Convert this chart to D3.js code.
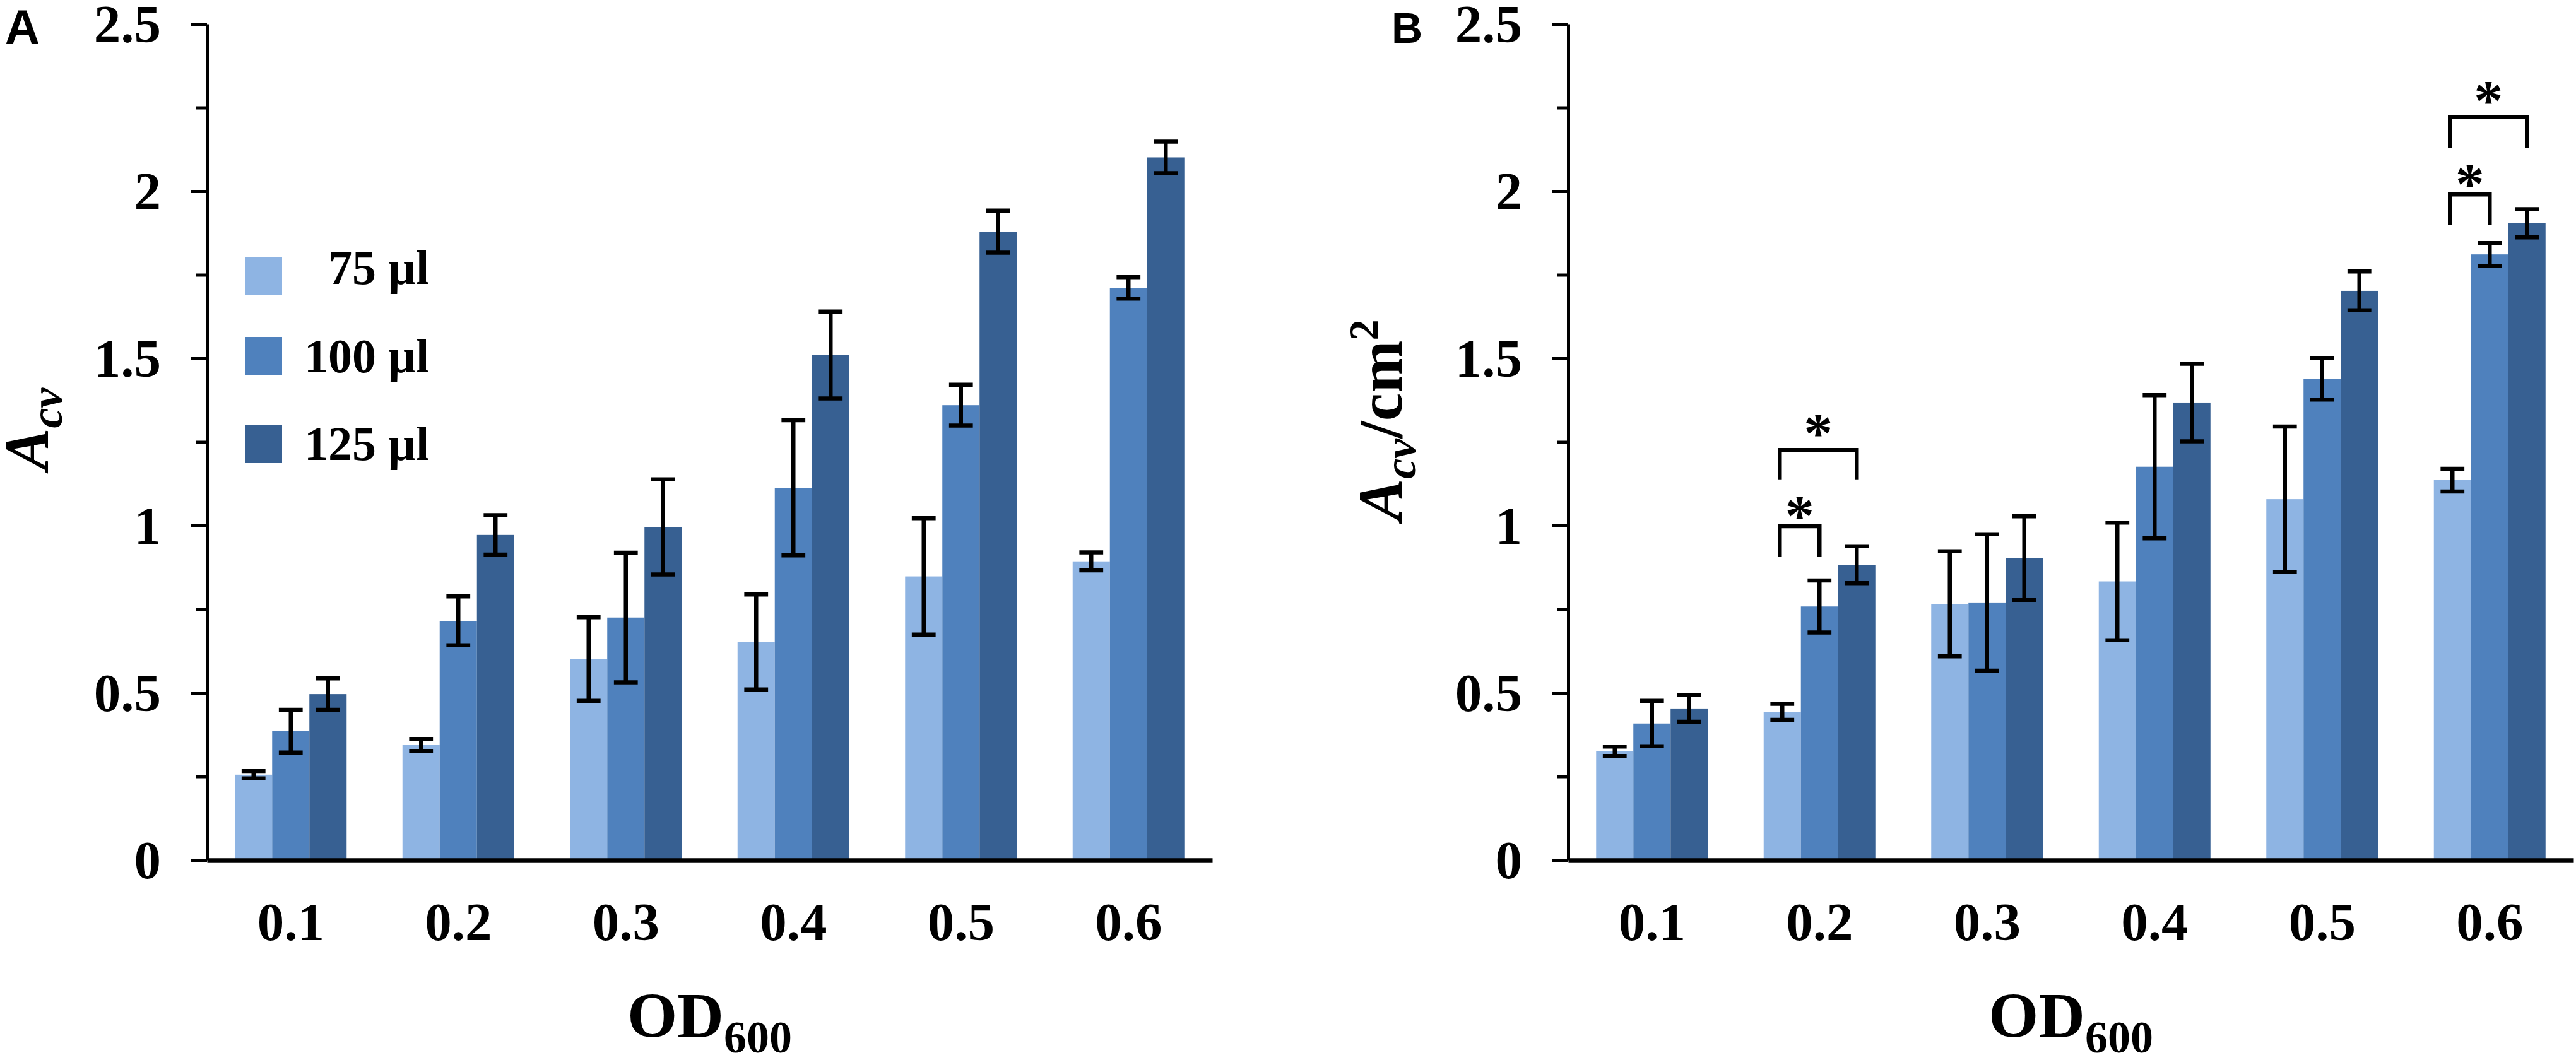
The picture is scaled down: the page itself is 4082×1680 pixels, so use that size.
<!DOCTYPE html>
<html>
<head>
<meta charset="utf-8">
<script src="https://cdn.jsdelivr.net/npm/d3@7"></script>
<style>
  body { margin: 0; background: #fff; }
  text { font-family: "Liberation Serif", "Times New Roman", serif; font-weight: bold; fill: #000; }
  .panel-letter { font-family: "Liberation Sans", Arial, sans-serif; font-weight: bold; }
</style>
</head>
<body>
<div id="chart"></div>
<script>
// OD600 categories and the three inoculum volumes
const categories = ["0.1", "0.2", "0.3", "0.4", "0.5", "0.6"];
const seriesNames = ["75 µl", "100 µl", "125 µl"];
const seriesColors = ["#8eb4e3", "#4f81bd", "#376092"];
const yTicks = [0, 0.5, 1, 1.5, 2, 2.5];
const yMinorTicks = [0.25, 0.75, 1.25, 1.75, 2.25];

// Panel A: Acv
const a75 = [0.255, 0.344, 0.601, 0.652, 0.848, 0.893];
const a100 = [0.385, 0.715, 0.725, 1.113, 1.360, 1.711];
const a125 = [0.496, 0.972, 0.996, 1.510, 1.879, 2.101];
const a75Err = [0.011, 0.018, 0.125, 0.142, 0.174, 0.027];
const a100Err = [0.064, 0.073, 0.194, 0.202, 0.061, 0.032];
const a125Err = [0.047, 0.059, 0.142, 0.130, 0.063, 0.047];

// Panel B: Acv/cm2
const b75 = [0.325, 0.443, 0.766, 0.833, 1.079, 1.136];
const b100 = [0.408, 0.758, 0.770, 1.176, 1.439, 1.811];
const b125 = [0.453, 0.883, 0.903, 1.368, 1.702, 1.904];
const b75Err = [0.014, 0.024, 0.157, 0.176, 0.217, 0.034];
const b100Err = [0.068, 0.078, 0.204, 0.214, 0.062, 0.034];
const b125Err = [0.040, 0.055, 0.125, 0.116, 0.058, 0.042];

// significance brackets in panel B (series index from/to, top and leg end in y units)
const bSignificance = [
  { group: "0.2", from: 0, to: 1, top: 0.998, leg: 0.906 },
  { group: "0.2", from: 0, to: 2, top: 1.226, leg: 1.138 },
  { group: "0.6", from: 0, to: 1, top: 1.990, leg: 1.898 },
  { group: "0.6", from: 0, to: 2, top: 2.221, leg: 2.130 }
];

const width = 4082;
const height = 1680;

const svg = d3.select("#chart")
  .append("svg")
  .attr("width", width)
  .attr("height", height)
  .attr("viewBox", [0, 0, width, height]);

svg.append("rect").attr("width", width).attr("height", height).attr("fill", "#fff");

function buildRows(means, errs) {
  return categories.map((c, i) => ({
    cat: c,
    values: means.map((m, s) => ({ series: s, mean: m[i], err: errs[s][i] }))
  }));
}

function drawPanel(opts) {
  const { left, right, top, bottom, rows, sig } = opts;
  const g = svg.append("g");

  const y = d3.scaleLinear().domain([0, 2.5]).range([bottom, top]);
  const x = d3.scaleBand()
    .domain(categories)
    .range([left, right])
    .paddingInner(1 / 3)
    .paddingOuter(1 / 6);
  const xs = d3.scaleBand()
    .domain(d3.range(seriesNames.length))
    .range([0, x.bandwidth()]);

  // bars
  const group = g.append("g")
    .selectAll("g")
    .data(rows)
    .join("g")
    .attr("transform", d => `translate(${x(d.cat)},0)`);

  group.selectAll("rect")
    .data(d => d.values)
    .join("rect")
    .attr("x", d => xs(d.series))
    .attr("width", xs.bandwidth())
    .attr("y", d => y(d.mean))
    .attr("height", d => y(0) - y(d.mean))
    .attr("fill", d => seriesColors[d.series]);

  // error bars
  const capW = xs.bandwidth() * 0.64;
  const eb = group.selectAll("g.eb")
    .data(d => d.values)
    .join("g")
    .attr("class", "eb")
    .attr("stroke", "#000")
    .attr("stroke-width", 6.5);
  eb.append("line")
    .attr("x1", d => xs(d.series) + xs.bandwidth() / 2)
    .attr("x2", d => xs(d.series) + xs.bandwidth() / 2)
    .attr("y1", d => y(d.mean + d.err))
    .attr("y2", d => y(d.mean - d.err));
  eb.selectAll("line.cap")
    .data(d => [[d, d.mean + d.err], [d, d.mean - d.err]])
    .join("line")
    .attr("class", "cap")
    .attr("x1", d => xs(d[0].series) + xs.bandwidth() / 2 - capW / 2)
    .attr("x2", d => xs(d[0].series) + xs.bandwidth() / 2 + capW / 2)
    .attr("y1", d => y(d[1]))
    .attr("y2", d => y(d[1]));

  // y axis with major and minor ticks
  const yAxis = g.append("g")
    .attr("transform", `translate(${left},0)`)
    .call(d3.axisLeft(y).tickValues(yTicks).tickSize(25).tickSizeOuter(0).tickPadding(48)
      .tickFormat(d => d3.format("")(d)));
  yAxis.select(".domain").attr("stroke", "#000").attr("stroke-width", 5);
  yAxis.selectAll(".tick line").attr("stroke", "#000").attr("stroke-width", 5);
  yAxis.selectAll(".tick text")
    .attr("font-size", 85)
    .attr("font-family", "Liberation Serif")
    .attr("font-weight", "bold")
    .attr("dy", "0.34em");

  g.append("g")
    .attr("transform", `translate(${left},0)`)
    .call(d3.axisLeft(y).tickValues(yMinorTicks).tickSize(17).tickFormat(""))
    .call(a => a.select(".domain").remove())
    .selectAll(".tick line").attr("stroke", "#000").attr("stroke-width", 5);

  // x axis
  const xAxis = g.append("g")
    .attr("transform", `translate(0,${bottom})`)
    .call(d3.axisBottom(x).tickSize(0).tickSizeOuter(0));
  xAxis.select(".domain").attr("stroke", "#000").attr("stroke-width", 6.5);
  xAxis.selectAll(".tick text")
    .attr("font-size", 85)
    .attr("font-family", "Liberation Serif")
    .attr("font-weight", "bold")
    .attr("y", 127)
    .attr("dy", 0);

  // x title
  const xt = g.append("text")
    .attr("x", (left + right) / 2)
    .attr("y", 1644)
    .attr("text-anchor", "middle")
    .attr("font-size", 102);
  xt.append("tspan").text("OD");
  xt.append("tspan").attr("font-size", 72).attr("dy", 24).text("600");

  // significance brackets
  if (sig) {
    const sg = g.append("g");
    sig.forEach(s => {
      const x1 = x(s.group) + xs(s.from) + xs.bandwidth() / 2 - 4;
      const x2 = x(s.group) + xs(s.to) + xs.bandwidth() / 2;
      sg.append("path")
        .attr("d", `M${x1},${y(s.leg)}V${y(s.top)}H${x2}V${y(s.leg)}`)
        .attr("fill", "none")
        .attr("stroke", "#000")
        .attr("stroke-width", 6.5);
      const gap = s.to - s.from > 1 ? 36 : 26;
      sg.append("text")
        .attr("x", (x1 + x2) / 2)
        .attr("y", y(s.top) - gap + 40)
        .attr("text-anchor", "middle")
        .attr("font-size", 92)
        .text("*");
    });
  }
  return g;
}

// Panel A
const panelA = drawPanel({
  left: 328, right: 1921, top: 38, bottom: 1363,
  rows: buildRows([a75, a100, a125], [a75Err, a100Err, a125Err])
});

// Panel B
const panelB = drawPanel({
  left: 2485, right: 4078, top: 38, bottom: 1363,
  rows: buildRows([b75, b100, b125], [b75Err, b100Err, b125Err]),
  sig: bSignificance
});

// y titles
const ya = svg.append("text")
  .attr("transform", "translate(76,680) rotate(-90)")
  .attr("text-anchor", "middle")
  .attr("font-size", 100)
  .attr("font-style", "italic");
ya.append("tspan").text("A");
ya.append("tspan").attr("font-size", 72).attr("dy", 22).text("cv");

const yb = svg.append("text")
  .attr("transform", "translate(2221,666) rotate(-90)")
  .attr("text-anchor", "middle")
  .attr("font-size", 100);
yb.append("tspan").attr("font-style", "italic").text("A");
yb.append("tspan").attr("font-style", "italic").attr("font-size", 72).attr("dy", 22).text("cv");
yb.append("tspan").attr("dy", -22).text("/cm");
yb.append("tspan").attr("font-size", 66).attr("dy", -38).text("2");

// legend (panel A)
const legend = svg.append("g")
  .selectAll("g")
  .data(seriesNames)
  .join("g");
const legendRows = [[408, 450], [534, 590], [674, 729]];
legend.append("rect")
  .attr("x", 388)
  .attr("y", (d, i) => legendRows[i][0])
  .attr("width", 59)
  .attr("height", 60)
  .attr("fill", (d, i) => seriesColors[i]);
legend.append("text")
  .attr("x", 680)
  .attr("y", (d, i) => legendRows[i][1])
  .attr("text-anchor", "end")
  .attr("font-size", 76)
  .text(d => d);

// panel letters
svg.append("text").attr("class", "panel-letter")
  .attr("x", 8).attr("y", 69).attr("font-size", 76).text("A");
svg.append("text").attr("class", "panel-letter")
  .attr("x", 2205).attr("y", 68).attr("font-size", 68).text("B");
</script>
</body>
</html>
